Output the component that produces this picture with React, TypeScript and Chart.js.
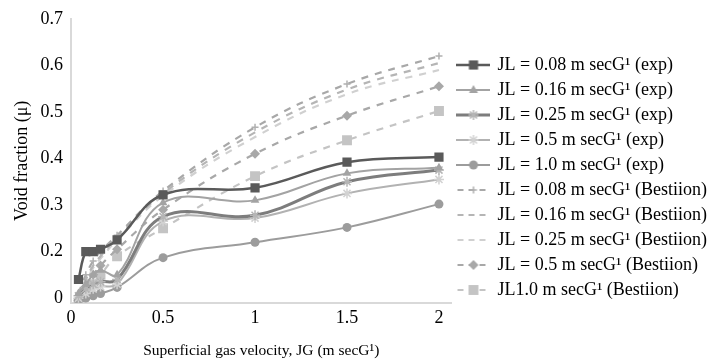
import React, { useEffect, useRef } from 'react';
import { Chart, registerables } from 'chart.js';

Chart.register(...registerables);

const xValues = [0.04, 0.08, 0.12, 0.16, 0.25, 0.5, 1, 1.5, 2];

const exp008 = [0.14, 0.2, 0.2, 0.205, 0.225, 0.322, 0.337, 0.392, 0.403];
const exp016 = [0.11, 0.13, 0.15, 0.16, 0.15, 0.305, 0.31, 0.368, 0.38];
const exp025 = [0.105, 0.12, 0.13, 0.135, 0.14, 0.275, 0.278, 0.35, 0.375];
const exp05 = [0.1, 0.11, 0.12, 0.125, 0.13, 0.265, 0.272, 0.325, 0.355];
const exp10 = [0.095, 0.1, 0.105, 0.11, 0.123, 0.187, 0.22, 0.252, 0.302];

const best008 = [0.11, 0.15, 0.18, 0.2, 0.235, 0.33, 0.467, 0.56, 0.62];
const best016 = [0.105, 0.14, 0.17, 0.19, 0.23, 0.325, 0.456, 0.548, 0.605];
const best025 = [0.1, 0.135, 0.165, 0.185, 0.225, 0.32, 0.446, 0.538, 0.59];
const best05 = [0.095, 0.125, 0.15, 0.17, 0.205, 0.29, 0.41, 0.492, 0.555];
const best10 = [0.09, 0.11, 0.13, 0.15, 0.19, 0.25, 0.362, 0.439, 0.502];

const seriesLabels = [
  'JL = 0.08 m secG¹ (exp)',
  'JL = 0.16 m secG¹ (exp)',
  'JL = 0.25 m secG¹ (exp)',
  'JL = 0.5 m secG¹ (exp)',
  'JL = 1.0 m secG¹ (exp)',
  'JL = 0.08 m secG¹ (Bestiion)',
  'JL = 0.16 m secG¹ (Bestiion)',
  'JL = 0.25 m secG¹ (Bestiion)',
  'JL = 0.5 m secG¹ (Bestiion)',
  'JL1.0 m secG¹ (Bestiion)',
];

const xTickValues = [0, 0.5, 1, 1.5, 2];
const xTickLabels = ['0', '0.5', '1', '1.5', '2'];
const yTickValues = [0.1, 0.2, 0.3, 0.4, 0.5, 0.6, 0.7];
const yTickLabels = ['0', '0.2', '0.3', '0.4', '0.5', '0.6', '0.7'];

const allSeries = [exp008, exp016, exp025, exp05, exp10, best008, best016, best025, best05, best10];

type Style = {
  color: string;
  width: number;
  dash: number[];
  marker: string;
  markerColor: string;
  radius: number;
};

const styles: Style[] = [
  { color: '#5a5a5a', width: 2.5, dash: [], marker: 'rect', markerColor: '#5a5a5a', radius: 6.5 },
  { color: '#a3a3a3', width: 2, dash: [], marker: 'triangle', markerColor: '#a3a3a3', radius: 5 },
  { color: '#7d7d7d', width: 3, dash: [], marker: 'star', markerColor: '#b5b5b5', radius: 5 },
  { color: '#b2b2b2', width: 2, dash: [], marker: 'star', markerColor: '#d2d2d2', radius: 5 },
  { color: '#9c9c9c', width: 2, dash: [], marker: 'circle', markerColor: '#9c9c9c', radius: 4.5 },
  { color: '#a8a8a8', width: 2.2, dash: [7, 7], marker: 'cross', markerColor: '#b0b0b0', radius: 3.5 },
  { color: '#b5b5b5', width: 2.2, dash: [7, 7], marker: 'none', markerColor: '#b5b5b5', radius: 0 },
  { color: '#d0d0d0', width: 2.2, dash: [7, 7], marker: 'none', markerColor: '#d0d0d0', radius: 0 },
  { color: '#a8a8a8', width: 2.2, dash: [7, 7], marker: 'rectRot', markerColor: '#a8a8a8', radius: 5 },
  { color: '#c4c4c4', width: 2.2, dash: [7, 7], marker: 'rect', markerColor: '#c4c4c4', radius: 7 },
];

function drawMarker(ctx: CanvasRenderingContext2D, s: Style, x: number, y: number) {
  if (s.marker === 'none') return;
  const r = s.radius;
  ctx.save();
  ctx.setLineDash([]);
  ctx.fillStyle = s.markerColor;
  ctx.strokeStyle = s.markerColor;
  ctx.lineWidth = 1.5;
  ctx.beginPath();
  if (s.marker === 'rect') {
    const h = (r * Math.SQRT2) / 2;
    ctx.rect(x - h, y - h, 2 * h, 2 * h);
    ctx.fill();
  } else if (s.marker === 'rectRot') {
    ctx.moveTo(x, y - r);
    ctx.lineTo(x + r, y);
    ctx.lineTo(x, y + r);
    ctx.lineTo(x - r, y);
    ctx.closePath();
    ctx.fill();
  } else if (s.marker === 'triangle') {
    ctx.moveTo(x, y - r);
    ctx.lineTo(x + r * 0.9, y + r * 0.6);
    ctx.lineTo(x - r * 0.9, y + r * 0.6);
    ctx.closePath();
    ctx.fill();
  } else if (s.marker === 'circle') {
    ctx.arc(x, y, r, 0, Math.PI * 2);
    ctx.fill();
  } else if (s.marker === 'star' || s.marker === 'cross') {
    ctx.moveTo(x - r, y);
    ctx.lineTo(x + r, y);
    ctx.moveTo(x, y - r);
    ctx.lineTo(x, y + r);
    if (s.marker === 'star') {
      const d = r * 0.7;
      ctx.moveTo(x - d, y - d);
      ctx.lineTo(x + d, y + d);
      ctx.moveTo(x - d, y + d);
      ctx.lineTo(x + d, y - d);
    }
    ctx.stroke();
  }
  ctx.restore();
}

function makeIcon(s: Style): HTMLCanvasElement {
  const c = document.createElement('canvas');
  c.width = 34;
  c.height = 18;
  const ctx = c.getContext('2d')!;
  ctx.strokeStyle = s.color;
  ctx.lineWidth = s.width;
  ctx.setLineDash(s.dash.length ? [6, 5] : []);
  ctx.beginPath();
  ctx.moveTo(s.dash.length ? 1 : 0, 9);
  ctx.lineTo(34, 9);
  ctx.stroke();
  drawMarker(ctx, s, 17, 9);
  return c;
}

const FONT = 'Liberation Serif, Times New Roman, serif';

export default function App() {
  const ref = useRef<HTMLCanvasElement>(null);

  useEffect(() => {
    document.body.style.margin = '0';
    const canvas = ref.current!;
    const icons = styles.map(makeIcon);

    const datasets = allSeries.map((vals, i) => {
      const s = styles[i];
      return {
        label: seriesLabels[i],
        data: vals.map((v, j) => ({ x: xValues[j], y: v })),
        borderColor: s.color,
        backgroundColor: s.markerColor,
        borderWidth: s.width,
        borderDash: s.dash,
        tension: 0.4,
        pointStyle: s.marker === 'none' ? false : s.marker,
        pointRadius: s.radius,
        pointBorderColor: s.markerColor,
        pointBackgroundColor: s.markerColor,
        pointBorderWidth: s.marker === 'star' || s.marker === 'cross' ? 1.5 : 0,
        fill: false,
      };
    });

    const chart = new Chart(canvas, {
      type: 'line',
      data: { datasets: datasets as any },
      options: {
        animation: false,
        responsive: false,
        layout: { padding: { top: 15, right: -7, bottom: 4, left: 0 } },
        plugins: {
          tooltip: { enabled: false },
          legend: {
            position: 'right',
            align: 'start',
            maxWidth: 320,
            title: { display: true, text: '', font: { size: 10 }, padding: { top: 22, bottom: 0 } },
            labels: {
              usePointStyle: true,
              pointStyleWidth: 30,
              boxWidth: 30,
              padding: 7,
              color: '#000',
              font: { family: FONT, size: 18 },
              generateLabels: (ch: any) =>
                ch.data.datasets.map((ds: any, i: number) => ({
                  text: ds.label,
                  pointStyle: icons[i],
                  fillStyle: 'transparent',
                  strokeStyle: 'transparent',
                  lineWidth: 0,
                  hidden: false,
                  datasetIndex: i,
                  fontColor: '#000',
                })),
            },
          },
        },
        scales: {
          x: {
            type: 'linear',
            min: 0,
            max: 2.068,
            afterBuildTicks: (scale: any) => {
              scale.ticks = xTickValues.map((v) => ({ value: v }));
            },
            grid: { display: false, drawTicks: false },
            border: { display: true, color: '#d9d9d9', width: 2 },
            ticks: {
              color: '#000',
              padding: 5,
              font: { family: FONT, size: 18 },
              callback: (v: any, idx: number) => xTickLabels[idx],
            },
            title: {
              display: true,
              text: 'Superficial gas velocity, JG (m secG¹)',
              color: '#000',
              font: { family: FONT, size: 15.5 },
              padding: { top: 7, bottom: 0 },
            },
          },
          y: {
            type: 'linear',
            min: 0.09,
            max: 0.7,
            afterBuildTicks: (scale: any) => {
              scale.ticks = yTickValues.map((v) => ({ value: v }));
            },
            grid: { display: false, drawTicks: false },
            border: { display: true, color: '#d9d9d9', width: 2 },
            ticks: {
              color: '#000',
              padding: 8,
              font: { family: FONT, size: 18 },
              callback: (v: any, idx: number) => yTickLabels[idx],
            },
            title: {
              display: true,
              text: 'Void fraction (μ)',
              color: '#000',
              font: { family: FONT, size: 18 },
              padding: { top: 11, bottom: 0 },
            },
          },
        },
      } as any,
    });
    return () => chart.destroy();
  }, []);

  return (
    <div style={{ width: 710, height: 364 }}>
      <canvas ref={ref} width={710} height={364} style={{ display: 'block' }} />
    </div>
  );
}
